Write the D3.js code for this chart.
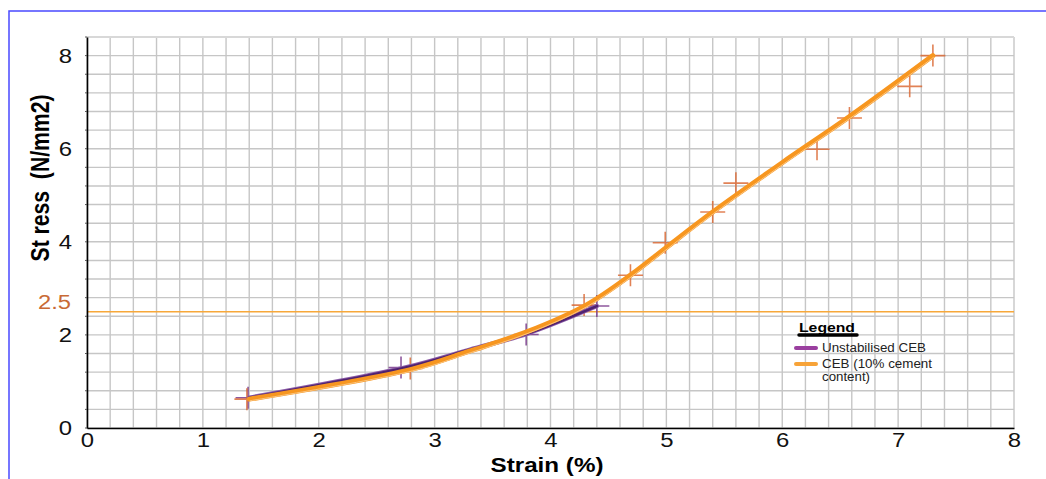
<!DOCTYPE html>
<html>
<head>
<meta charset="utf-8">
<script src="https://cdn.jsdelivr.net/npm/d3@7/dist/d3.min.js"></script>
<style>
  html, body { margin: 0; padding: 0; background: #fff; }
  svg { display: block; font-family: "Liberation Sans", Arial, sans-serif; }
</style>
</head>
<body>
<svg id="chart" width="1046" height="479"></svg>
<script>
// ---- data ----
const strainTicks = [0, 1, 2, 3, 4, 5, 6, 7, 8];
const stressTicks = [0, 2, 4, 6, 8];
const referenceStress = 2.5;

const seriesNames = ["Unstabilised CEB", "CEB (10% cement content)"];

// fitted curves
const unstabilisedCurve = [[1.4, 0.65], [2.75, 1.3], [3.3, 1.68], [3.8, 2.03], [4.4, 2.62]];
const cementCurve = [[1.4, 0.62], [2.8, 1.26], [3.3, 1.65], [3.8, 2.07], [4.3, 2.63], [4.7, 3.3],
                     [5.0, 3.88], [5.4, 4.64], [6.0, 5.7], [6.58, 6.69], [7.3, 8.0]];

// measured points (cross markers)
const unstabilisedPoints = [[1.39, 0.65], [2.71, 1.30], [3.79, 2.01], [4.40, 2.62]];
const cementPoints = [[1.38, 0.62], [2.79, 1.28], [4.29, 2.64], [4.69, 3.28], [4.99, 3.98],
                      [5.40, 4.64], [5.60, 5.26], [6.30, 5.99], [6.58, 6.66], [7.10, 7.34], [7.30, 8.0]];

// ---- layout ----
const svg = d3.select("#chart");
const pLeft = 87, pRight = 1014, pTop = 37, pBottom = 428;
const x = d3.scaleLinear().domain([0, 8]).range([pLeft, pRight]);
const y = d3.scaleLinear().domain([0, 8.4]).range([pBottom, pTop]);

// frame
svg.append("path")
  .attr("d", `M9,479 L9,11 L1046,11`)
  .attr("fill", "none").attr("stroke", "#4a4aff").attr("stroke-width", 1.5);

// grid
const g = svg.append("g");
const vGrid = d3.range(0, 8.0001, 0.2).map(v => +v.toFixed(1));
const hGrid = d3.range(0, 8.4001, 0.4).map(v => +v.toFixed(1));
g.selectAll("line.v").data(vGrid).join("line")
  .attr("x1", d => x(d)).attr("x2", d => x(d))
  .attr("y1", pTop).attr("y2", pBottom)
  .attr("stroke", "#c6c6c6").attr("stroke-width", 1.4);
g.selectAll("line.h").data(hGrid).join("line")
  .attr("x1", pLeft).attr("x2", pRight)
  .attr("y1", d => y(d)).attr("y2", d => y(d))
  .attr("stroke", "#c6c6c6").attr("stroke-width", 1.4);
g.append("line").attr("x1", pLeft).attr("x2", pRight).attr("y1", pTop).attr("y2", pTop)
  .attr("stroke", "#d8d8d8").attr("stroke-width", 2);

// reference line
svg.append("line")
  .attr("x1", pLeft).attr("x2", pRight)
  .attr("y1", y(referenceStress)).attr("y2", y(referenceStress))
  .attr("stroke", "#f7a83a").attr("stroke-width", 1.5);
svg.append("text")
  .attr("x", 71).attr("y", y(referenceStress) - 3)
  .attr("text-anchor", "end").attr("font-size", 19.5).attr("fill", "#c96a35")
  .attr("textLength", 33).attr("lengthAdjust", "spacingAndGlyphs")
  .text(referenceStress);

// axes
const xAxis = d3.axisBottom(x).tickValues(strainTicks).tickSize(0).tickPadding(5);
const yAxis = d3.axisLeft(y).tickValues(stressTicks).tickSize(0).tickPadding(15);
const xa = svg.append("g").attr("transform", `translate(0,${pBottom})`).call(xAxis);
const ya = svg.append("g").attr("transform", `translate(${pLeft},0)`).call(yAxis);
[xa, ya].forEach(a => {
  a.select(".domain").attr("stroke", "#000").attr("stroke-width", 1.6);
  a.selectAll("text").attr("font-size", 19.5).attr("fill", "#111")
   .attr("font-family", "Liberation Sans, Arial, sans-serif")
   .attr("textLength", 13.3).attr("lengthAdjust", "spacingAndGlyphs");
});
xa.selectAll("text").attr("dy", "0.7em");
ya.selectAll("text").attr("dy", "0.35em");

// minor y tick stubs
svg.selectAll("line.ytick").data(hGrid).join("line")
  .attr("x1", pLeft - 2).attr("x2", pLeft)
  .attr("y1", d => y(d)).attr("y2", d => y(d))
  .attr("stroke", "#555").attr("stroke-width", 1);

// axis titles
svg.append("text")
  .attr("x", 547).attr("y", 472)
  .attr("text-anchor", "middle").attr("font-size", 19.5).attr("font-weight", "bold")
  .attr("textLength", 113).attr("lengthAdjust", "spacingAndGlyphs")
  .text("Strain (%)");
svg.append("text")
  .attr("transform", "translate(49,178) rotate(-90) scale(1,1.25)")
  .attr("text-anchor", "middle").attr("font-size", 21).attr("font-weight", "bold")
  .attr("xml:space", "preserve")
  .attr("textLength", 167).attr("lengthAdjust", "spacingAndGlyphs")
  .text("St ress  (N/mm2)");

// markers
function crosses(data, color, opacity) {
  const m = svg.append("g");
  m.selectAll("path").data(data).join("path")
    .attr("d", d => {
      const cx = x(d[0]), cy = y(d[1]);
      return `M${cx - 12.5},${cy}H${cx + 12.5}M${cx},${cy - 11}V${cy + 11}`;
    })
    .attr("stroke", color).attr("stroke-width", 1.6).attr("opacity", opacity)
    .attr("fill", "none");
}
crosses(unstabilisedPoints, "#7a3b8c", 0.85);
crosses(cementPoints, "#d9632c", 0.8);

// lines
const line = d3.line().x(d => x(d[0])).y(d => y(d[1])).curve(d3.curveCatmullRom.alpha(0.5));
svg.append("path").datum(unstabilisedCurve).attr("d", line)
  .attr("fill", "none").attr("stroke", "#8a5aa6").attr("stroke-width", 4.5).attr("stroke-linecap", "round");
svg.append("path").datum(unstabilisedCurve).attr("d", line)
  .attr("fill", "none").attr("stroke", "#4f2270").attr("stroke-width", 2.5).attr("stroke-linecap", "round");
svg.append("path").datum(cementCurve).attr("d", line)
  .attr("fill", "none").attr("stroke", "#f7961f").attr("stroke-width", 5).attr("stroke-linecap", "round");
svg.append("path").datum(cementCurve).attr("d", line)
  .attr("transform", "translate(0.8,1.6)")
  .attr("fill", "none").attr("stroke", "#fbc47e").attr("stroke-width", 1).attr("stroke-linecap", "round");

// legend
const lg = svg.append("g");
lg.append("text").attr("x", 799).attr("y", 332)
  .attr("font-size", 12.5).attr("font-weight", "bold")
  .attr("textLength", 56).attr("lengthAdjust", "spacingAndGlyphs").text("Legend");
lg.append("line").attr("x1", 799).attr("x2", 857).attr("y1", 335).attr("y2", 335)
  .attr("stroke", "#000").attr("stroke-width", 3.5).attr("stroke-linecap", "round");
const legendColors = ["#9a3f9f", "#f7a338"];
const legendY = [348, 364];
seriesNames.forEach((name, i) => {
  lg.append("line").attr("x1", 796).attr("x2", 816).attr("y1", legendY[i]).attr("y2", legendY[i])
    .attr("stroke", legendColors[i]).attr("stroke-width", 4).attr("stroke-linecap", "round");
});
lg.append("text").attr("x", 822).attr("y", 352).attr("font-size", 12.5).attr("fill", "#222")
  .attr("textLength", 104).attr("lengthAdjust", "spacingAndGlyphs")
  .text(seriesNames[0]);
lg.append("text").attr("x", 822).attr("y", 368).attr("font-size", 12.5).attr("fill", "#222")
  .attr("textLength", 110).attr("lengthAdjust", "spacingAndGlyphs")
  .text("CEB (10% cement");
lg.append("text").attr("x", 822).attr("y", 381).attr("font-size", 12.5).attr("fill", "#222")
  .attr("textLength", 48).attr("lengthAdjust", "spacingAndGlyphs")
  .text("content)");
</script>
</body>
</html>
